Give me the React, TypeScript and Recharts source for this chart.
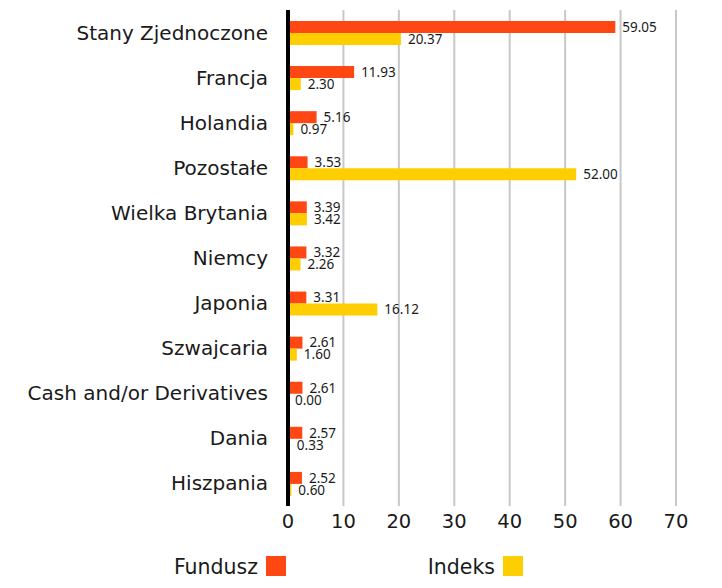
import React from "react";
import { BarChart, Bar, XAxis, YAxis, CartesianGrid, LabelList } from "recharts";

const categories = [
  "Stany Zjednoczone",
  "Francja",
  "Holandia",
  "Pozostałe",
  "Wielka Brytania",
  "Niemcy",
  "Japonia",
  "Szwajcaria",
  "Cash and/or Derivatives",
  "Dania",
  "Hiszpania",
];
const fundusz = [59.05, 11.93, 5.16, 3.53, 3.39, 3.32, 3.31, 2.61, 2.61, 2.57, 2.52];
const indeks = [20.37, 2.3, 0.97, 52.0, 3.42, 2.26, 16.12, 1.6, 0.0, 0.33, 0.6];
const xTicks = [0, 10, 20, 30, 40, 50, 60, 70];

const seriesNames = { fundusz: "Fundusz", indeks: "Indeks" };
const colors = { fundusz: "#FF4713", indeks: "#FFCE00" };

const data = categories.map((c, i) => ({ name: c, fundusz: fundusz[i], indeks: indeks[i] }));

const FONT = "'DejaVu Sans', sans-serif";
const SMALL = "'Noto Sans', sans-serif";

const YTick = (props: any) => {
  const { y, payload } = props;
  return (
    <text x={268} y={y} dy={7} textAnchor="end" fontFamily={FONT} fontSize={20} fill="#1a1a1a">
      {payload.value}
    </text>
  );
};

const XTick = (props: any) => {
  const { x, payload } = props;
  return (
    <text x={x} y={521} dy={7} textAnchor="middle" fontFamily={FONT} fontSize={19.5} fill="#1a1a1a">
      {payload.value}
    </text>
  );
};

const fmt = (v: any) => Number(v).toFixed(2);

export default function App() {
  return (
    <div style={{ position: "relative", margin: -8, width: 722, height: 588, background: "#fff", overflow: "hidden" }}>
      <div style={{ position: "absolute", left: 1, top: 0, width: 2, height: 588, background: "#8a8a8a" }} />
      <BarChart
        layout="vertical"
        width={722}
        height={588}
        data={data}
        margin={{ top: 10, right: 46, bottom: 52, left: 0 }}
        barGap={0}
        barSize={12}
      >
        <CartesianGrid horizontal={false} vertical={true} stroke="#c8c8c8" strokeWidth={2} />
        <XAxis
          type="number"
          domain={[0, 70]}
          ticks={xTicks}
          axisLine={false}
          tickLine={false}
          tick={<XTick />}
          interval={0}
          height={30}
        />
        <YAxis
          type="category"
          dataKey="name"
          width={288}
          axisLine={{ stroke: "#000", strokeWidth: 4 }}
          tickLine={false}
          tick={<YTick />}
          interval={0}
        />
        <Bar dataKey="fundusz" name={seriesNames.fundusz} fill={colors.fundusz} isAnimationActive={false}>
          <LabelList dataKey="fundusz" position="right" offset={7} formatter={fmt} fontFamily={SMALL} fontSize={13.5} fill="#1a1a1a" />
        </Bar>
        <Bar dataKey="indeks" name={seriesNames.indeks} fill={colors.indeks} minPointSize={0.01} isAnimationActive={false}>
          <LabelList dataKey="indeks" position="right" offset={7} formatter={fmt} fontFamily={SMALL} fontSize={13.5} fill="#1a1a1a" />
        </Bar>
      </BarChart>
      <div style={{ position: "absolute", left: 0, top: 554, width: 722, height: 24, fontFamily: FONT, fontSize: 20.5, color: "#1a1a1a" }}>
        <div style={{ position: "absolute", right: 722 - 258, top: 0, lineHeight: "26px" }}>{seriesNames.fundusz}</div>
        <div style={{ position: "absolute", left: 266, top: 2, width: 20, height: 20, background: colors.fundusz }} />
        <div style={{ position: "absolute", right: 722 - 495, top: 0, lineHeight: "26px" }}>{seriesNames.indeks}</div>
        <div style={{ position: "absolute", left: 503, top: 2, width: 20, height: 20, background: colors.indeks }} />
      </div>
    </div>
  );
}
